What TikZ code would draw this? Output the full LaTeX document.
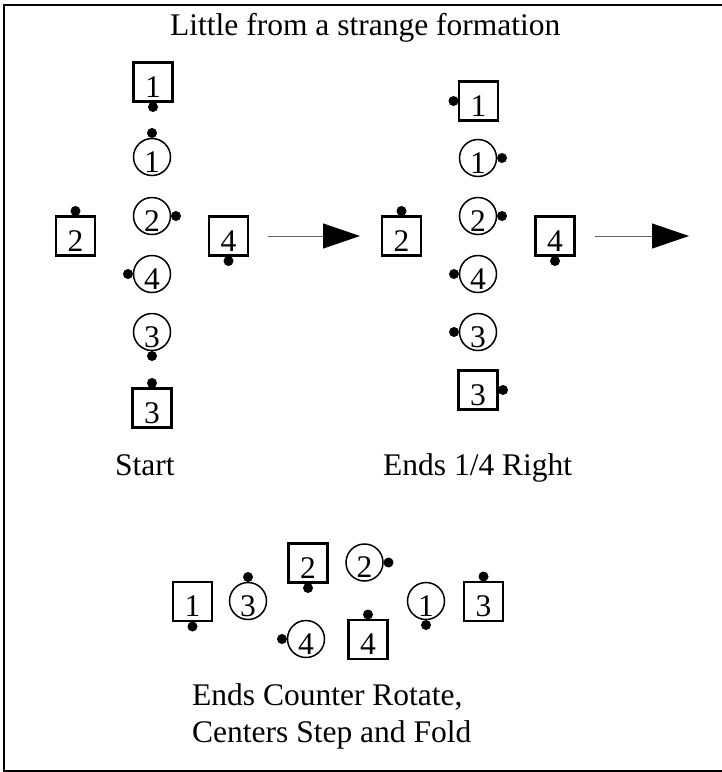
\documentclass[tikz,border=0pt]{standalone}
\usepackage{fontspec}
\setmainfont{Liberation Serif}
\usetikzlibrary{arrows.meta}
\tikzset{
	sqbox/.style={draw,line width=2.4pt,rectangle,minimum width=39pt,minimum height=39pt,inner sep=0pt,text height=30pt,text depth=0pt},
	crbox/.style={draw,line width=1.5pt,circle,minimum size=37pt,inner sep=0pt,text height=30pt,text depth=0pt},
	caption/.style={anchor=base west,inner sep=0pt},
	flow/.style={line width=1pt,black!60,-{Triangle[length=37pt,width=25pt,color=black]}}
}
% dancer: name, position, angle of the nose dot, number
\def\sqdancer(#1)(#2)(#3)#4{\node[sqbox] (#1) at (#2) {#4}; \fill (#1.center) ++(#3:25pt) circle (5pt);}
\def\crdancer(#1)(#2)(#3)#4{\node[crbox] (#1) at (#2) {#4}; \fill (#1.center) ++(#3:24pt) circle (5pt);}

\begin{document}
\begin{tikzpicture}[x=1pt,y=1pt,font=\fontsize{31.5}{37}\selectfont]
	\useasboundingbox (0,0) rectangle (722,-772);
	\draw[line width=2.5pt] (4,-5) rectangle (730,-771);
	\node[caption] (title) at (170,-35) {Little from a strange formation};
	
	%START
	\sqdancer(sa1)(153,-82)(-90){1}
	\sqdancer(sa2)(75.5,-236)(90){2}
	\sqdancer(sa3)(152,-408)(90){3}
	\sqdancer(sa4)(228.5,-236)(-90){4}
	\crdancer(ca1)(152,-157)(90){1}
	\crdancer(ca2)(152,-216)(0){2}
	\crdancer(ca4)(152,-274)(180){4}
	\crdancer(ca3)(152,-332)(-90){3}
	\node[caption] (start) at (115,-475) {Start};
	\coordinate (fa) at (360,-236);
	\draw[flow] (sa4.east) ++(19pt,0) -- (fa);
	
	%ENDS 1/4 RIGHT
	\sqdancer(sb1)(478.5,-101)(180){1}
	\sqdancer(sb2)(401.5,-236)(90){2}
	\sqdancer(sb3)(478,-390)(0){3}
	\sqdancer(sb4)(555,-236)(-90){4}
	\crdancer(cb1)(478,-158)(0){1}
	\crdancer(cb2)(478,-216)(0){2}
	\crdancer(cb4)(478,-274)(180){4}
	\crdancer(cb3)(478,-332)(180){3}
	\node[caption] (quarter) at (383,-475) {Ends 1/4 Right};
	\coordinate (fb) at (689,-236);
	\draw[flow] (sb4.east) ++(19pt,0) -- (fb);
	
	%COUNTER ROTATE, STEP AND FOLD
	\sqdancer(sc1)(192.5,-601.5)(-90){1}
	\sqdancer(sc2)(308,-563)(-90){2}
	\sqdancer(sc3)(483.5,-601.5)(90){3}
	\sqdancer(sc4)(368,-639.5)(90){4}
	\crdancer(cc3)(248,-601)(90){3}
	\crdancer(cc2)(364.5,-562.5)(0){2}
	\crdancer(cc4)(306,-639)(180){4}
	\crdancer(cc1)(426,-601)(-90){1}
	\node[caption] (rotate) at (192,-705) {Ends Counter Rotate,};
	\node[caption] (fold) at (192,-742) {Centers Step and Fold};
\end{tikzpicture}
\end{document}
